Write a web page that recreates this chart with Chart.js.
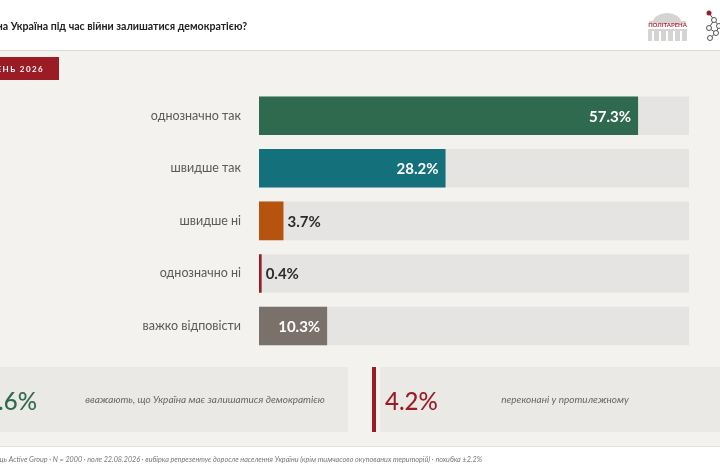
<!DOCTYPE html>
<html lang="uk">
<head>
<meta charset="utf-8">
<script src="https://cdn.jsdelivr.net/npm/chart.js@4.4.1/dist/chart.umd.min.js"></script>
<style>
  html, body { margin: 0; padding: 0; background: #f3f2ef; }
  #wrap { position: relative; width: 720px; height: 475px; overflow: hidden; }
</style>
</head>
<body>
<div id="wrap"><canvas id="chart" width="720" height="475"></canvas></div>
<script>
// survey answers, percent
const categories = ['однозначно так', 'швидше так', 'швидше ні', 'однозначно ні', 'важко відповісти'];
const values = [57.3, 28.2, 3.7, 0.4, 10.3];
const barColors = ['#2f6a4f', '#14707a', '#b6540f', '#9c1c26', '#7a716b'];
const scaleMax = 65;  // track = full width of the scale

const title = 'Чи повинна Україна під час війни залишатися демократією?';
const badge = 'СЕРПЕНЬ 2026';
const summaryYes = '85.6%';
const summaryYesText = 'вважають, що Україна має залишатися демократією';
const summaryNo = '4.2%';
const summaryNoText = 'переконані у протилежному';
const footer = 'Виконавець Active Group · N = 2000 · поле 22.08.2026 · вибірка репрезентує доросле населення України (крім тимчасово окупованих територій) · похибка ±2.2%';

const FONT = 'Lato, "Noto Sans", sans-serif';

// page furniture: header, badge, logos
const pageBackground = {
    id: 'pageBackground',
    beforeDraw(chart) {
        const ctx = chart.ctx;
        ctx.save();
        ctx.fillStyle = '#f3f2ef';
        ctx.fillRect(0, 0, 720, 475);
        // header strip
        ctx.fillStyle = '#ffffff';
        ctx.fillRect(0, 0, 720, 50);
        ctx.fillStyle = '#dcdad6';
        ctx.fillRect(0, 50, 720, 1);
        ctx.fillStyle = '#222222';
        ctx.font = `bold 10.6px ${FONT}`;
        ctx.textAlign = 'right';
        ctx.textBaseline = 'alphabetic';
        ctx.fillText(title, 247, 30);

        // badge
        ctx.fillStyle = '#9c1c26';
        ctx.fillRect(0, 57, 59, 23);
        ctx.fillStyle = '#ffffff';
        ctx.font = `bold 8px ${FONT}`;
        ctx.letterSpacing = '1.4px';
        ctx.fillText(badge, 44, 72);
        ctx.letterSpacing = '0px';

        // poltarena logo
        ctx.fillStyle = '#d6d4d2';
        ctx.beginPath();
        ctx.ellipse(667, 22, 14, 9, 0, Math.PI, 0);
        ctx.fill();
        ctx.fillRect(649, 21, 37, 3);
        ctx.fillRect(648, 29, 39, 12);
        ctx.fillStyle = '#ffffff';
        [652, 659, 666, 673, 680].forEach(x => ctx.fillRect(x, 31, 2, 10));
        ctx.fillStyle = '#b2283a';
        ctx.font = `bold 6px ${FONT}`;
        ctx.textAlign = 'center';
        ctx.fillText('ПОЛІТАРЕНА', 667.5, 27);

        // network logo
        ctx.strokeStyle = '#555555';
        ctx.lineWidth = 1;
        const nodes = [[714, 20], [709, 28], [716, 33], [710, 38], [719, 26]];
        ctx.beginPath();
        ctx.moveTo(709, 13); ctx.lineTo(714, 20); ctx.lineTo(709, 28); ctx.lineTo(716, 33);
        ctx.lineTo(710, 38); ctx.moveTo(714, 20); ctx.lineTo(719, 26); ctx.lineTo(716, 33);
        ctx.stroke();
        nodes.forEach(([x, y]) => {
            ctx.beginPath();
            ctx.arc(x, y, 2.5, 0, Math.PI * 2);
            ctx.fillStyle = '#ffffff';
            ctx.fill();
            ctx.stroke();
        });
        ctx.fillStyle = '#9c1c26';
        ctx.beginPath();
        ctx.arc(709, 13, 2.5, 0, Math.PI * 2);
        ctx.fill();
        ctx.restore();
    },
    afterDraw(chart) {
        const ctx = chart.ctx;
        ctx.save();
        // summary boxes
        ctx.fillStyle = '#ebe9e6';
        ctx.fillRect(0, 367, 348, 65);
        ctx.fillRect(380, 367, 340, 65);
        ctx.fillStyle = '#9c1c26';
        ctx.fillRect(372, 367, 4, 65);

        ctx.textBaseline = 'alphabetic';
        ctx.font = `500 24px ${FONT}`;
        ctx.textAlign = 'right';
        ctx.fillStyle = '#2f6a4f';
        ctx.fillText(summaryYes, 37, 410);
        ctx.textAlign = 'left';
        ctx.fillStyle = '#9c1c26';
        ctx.fillText(summaryNo, 385, 410);

        ctx.font = `italic 10px ${FONT}`;
        ctx.fillStyle = '#666666';
        ctx.textAlign = 'center';
        ctx.fillText(summaryYesText, 205, 403);
        ctx.fillText(summaryNoText, 565, 403);

        // footer
        ctx.fillStyle = '#ffffff';
        ctx.fillRect(0, 446, 720, 29);
        ctx.fillStyle = '#e4e2de';
        ctx.fillRect(0, 446, 720, 1);
        ctx.font = `italic 7.2px ${FONT}`;
        ctx.fillStyle = '#777777';
        ctx.textAlign = 'right';
        ctx.fillText(footer, 482, 462);
        ctx.restore();
    }
};

// percent labels next to / inside each bar
const valueLabels = {
    id: 'valueLabels',
    afterDatasetsDraw(chart) {
        const ctx = chart.ctx;
        const meta = chart.getDatasetMeta(0);
        ctx.save();
        ctx.font = `bold 15px ${FONT}`;
        ctx.textBaseline = 'middle';
        meta.data.forEach((bar, i) => {
            const label = values[i].toFixed(1) + '%';
            if (values[i] > 8) {
                ctx.fillStyle = '#ffffff';
                ctx.textAlign = 'right';
                ctx.fillText(label, bar.x - 7, bar.y + 1);
            } else {
                ctx.fillStyle = '#2b2b2b';
                ctx.textAlign = 'left';
                ctx.fillText(label, bar.x + 4, bar.y + 1);
            }
        });
        ctx.restore();
    }
};

new Chart(document.getElementById('chart').getContext('2d'), {
    type: 'bar',
    data: {
        labels: categories,
        datasets: [{
            data: values,
            backgroundColor: barColors,
            borderWidth: 0,
            order: 0,
        }, {
            data: categories.map(() => scaleMax),
            backgroundColor: '#e5e4e2',
            borderWidth: 0,
            order: 1,
        }]
    },
    options: {
        indexAxis: 'y',
        responsive: false,
        animation: false,
        devicePixelRatio: 1,
        grouped: false,
        barPercentage: 0.734,
        categoryPercentage: 1,
        layout: {
            padding: { top: 89.4, bottom: 122.7, right: 31, left: 0 },
        },
        plugins: {
            legend: { display: false },
            tooltip: { enabled: false },
        },
        scales: {
            x: {
                display: false,
                min: 0,
                max: scaleMax,
            },
            y: {
                grid: { display: false, drawTicks: false },
                border: { display: false },
                ticks: {
                    color: '#5a5a5a',
                    padding: 18,
                    font: { family: FONT, size: 12.5 },
                },
                afterFit: (axis) => { axis.width = 259; },
            },
        },
    },
    plugins: [pageBackground, valueLabels],
});
</script>
</body>
</html>
